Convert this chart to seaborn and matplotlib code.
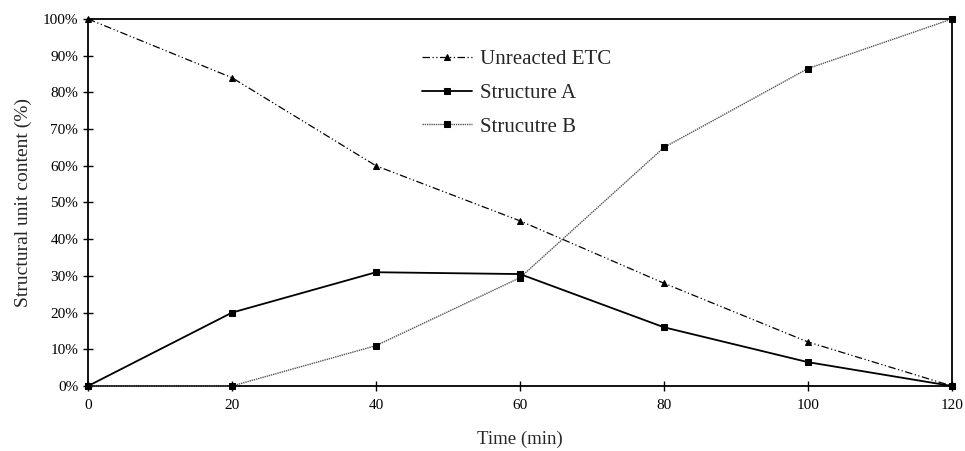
import pandas as pd
import matplotlib
matplotlib.use("Agg")
import matplotlib.pyplot as plt
import seaborn as sns
from matplotlib.ticker import FuncFormatter

# data
time_min = [0, 20, 40, 60, 80, 100, 120]
unreacted_etc = [100, 84, 60, 45, 28, 12, 0]
structure_a = [0, 20, 31, 30.5, 16, 6.5, 0]
structure_b = [0, 0, 11, 29.5, 65, 86.5, 100]

sns.set_theme(style="white")
plt.rcParams["font.family"] = ["Liberation Serif", "DejaVu Serif"]

fig = plt.figure(figsize=(9.65, 4.51), dpi=100)
ax = fig.add_axes([0.0912, 0.1441, 0.8953, 0.8138])

sns.lineplot(x=time_min, y=unreacted_etc, ax=ax, color="black", linestyle=(0, (6, 2, 1, 2, 1, 2)),
             linewidth=0.9, marker="^", markersize=5, markeredgecolor="black",
             label="Unreacted ETC", clip_on=False, zorder=3)
sns.lineplot(x=time_min, y=structure_a, ax=ax, color="black", linestyle="-",
             linewidth=1.3, marker="s", markersize=5, markeredgecolor="black",
             label="Structure A", clip_on=False, zorder=4)
sns.lineplot(x=time_min, y=structure_b, ax=ax, color="#555555", linestyle=(0, (1, 0.6)),
             linewidth=1.0, marker="s", markersize=5, markerfacecolor="black",
             markeredgecolor="black", label="Strucutre B", clip_on=False, zorder=3)

ax.set_xlim(0, 120)
ax.set_ylim(0, 100)
ax.set_xticks(time_min)
ax.set_yticks(range(0, 101, 10))
ax.yaxis.set_major_formatter(FuncFormatter(lambda v, p: f"{int(v)}%"))
ax.tick_params(direction="inout", length=7, width=1, labelsize=11, colors="black",
               bottom=True, left=True)
ax.tick_params(axis="x", pad=6)
for s in ax.spines.values():
    s.set_color("black")
    s.set_linewidth(1.3)

ax.set_xlabel("Time (min)", fontsize=13.5, labelpad=13)
ax.set_ylabel("Structural unit content (%)", fontsize=14, labelpad=8)

leg = ax.legend(loc="center left", bbox_to_anchor=(0.377, 0.798), borderaxespad=0,
                frameon=False, fontsize=15, handlelength=2.4, handletextpad=0.4,
                labelspacing=0.68)

fig.savefig("out.png", dpi=100)
